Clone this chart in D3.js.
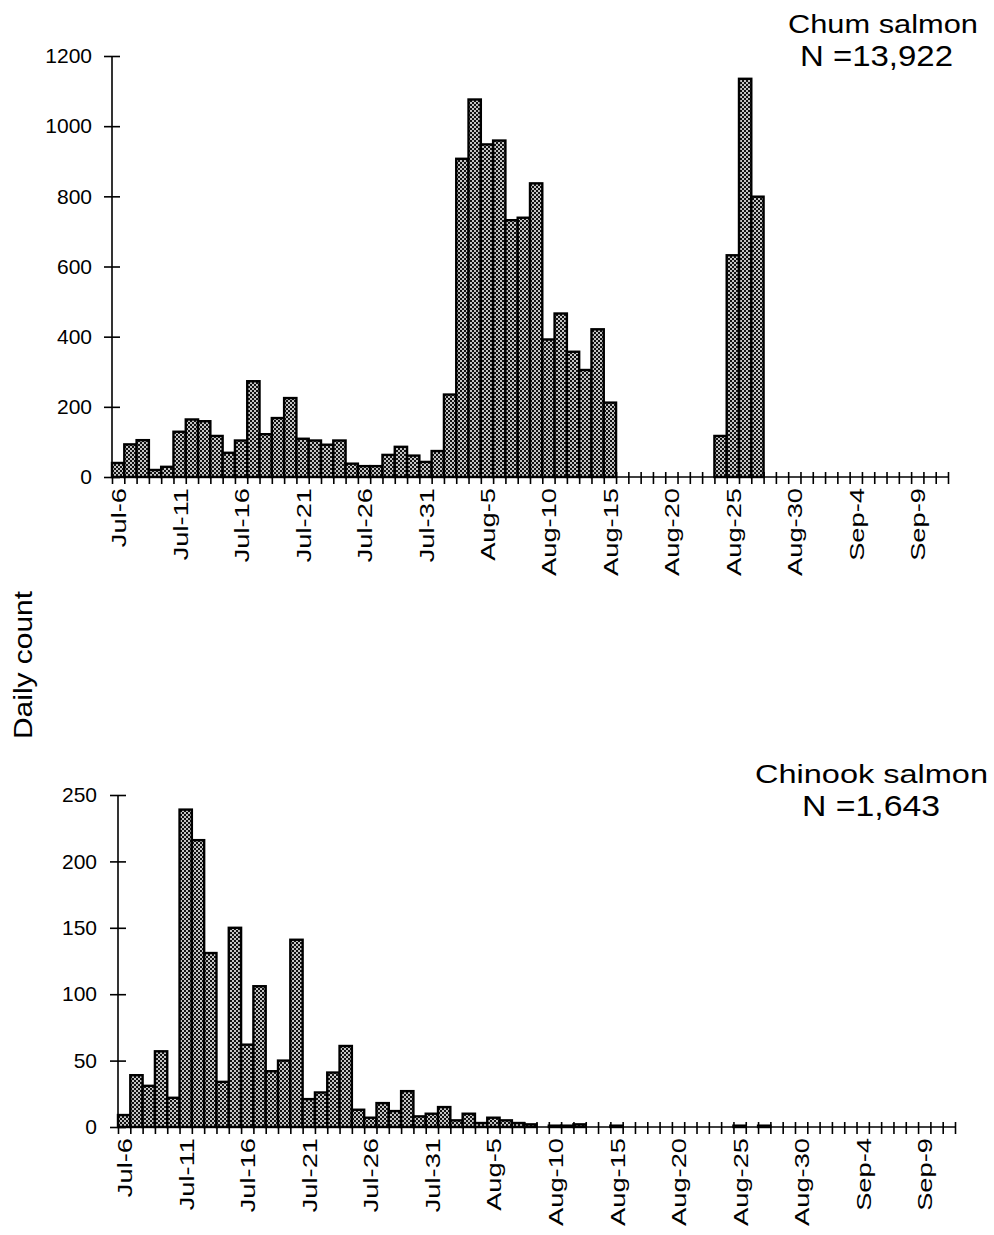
<!DOCTYPE html>
<html>
<head>
<meta charset="utf-8">
<script src="https://cdn.jsdelivr.net/npm/d3@7"></script>
<style>
    body { margin: 0; background: #fff; }
    svg { display: block; font-family: "Liberation Sans", Arial, sans-serif; }
    .domain, .tick line { stroke: #000; stroke-width: 1.6; }
</style>
</head>
<body>
<div class="charts"></div>
<script>
// daily counts, Jul-6 through Sep-12 (68 days)
var chumCounts = [
    40, 93, 105, 20, 29, 129, 164, 159, 117, 69, 104, 273, 122, 168, 225, 109,
    104, 92, 104, 38, 31, 31, 63, 86, 61, 43,
    74, 235, 907, 1076, 948, 959, 732, 739, 837, 392, 466, 357, 305, 421, 212,
    0, 0, 0, 0, 0, 0, 0, 0, 117, 632, 1135, 799, 0, 0, 0, 0,
    0, 0, 0, 0, 0, 0, 0, 0, 0, 0, 0
];
var chinookCounts = [
    9, 39, 31, 57, 22, 239, 216, 131, 34, 150, 62, 106, 42, 50, 141, 21,
    26, 41, 61, 13, 7, 18, 12, 27, 8, 10,
    15, 5, 10, 3, 7, 5, 3, 2, 0, 1, 1, 2, 0, 0, 1,
    0, 0, 0, 0, 0, 0, 0, 0, 0, 1, 0, 1, 0, 0, 0, 0,
    0, 0, 0, 0, 0, 0, 0, 0, 0, 0, 0
];
var dayLabels = ["Jul-6", "Jul-11", "Jul-16", "Jul-21", "Jul-26", "Jul-31", "Aug-5",
    "Aug-10", "Aug-15", "Aug-20", "Aug-25", "Aug-30", "Sep-4", "Sep-9"];
var chumTicks = [0, 200, 400, 600, 800, 1000, 1200];
var chinookTicks = [0, 50, 100, 150, 200, 250];

var days = d3.timeDay.range(new Date(2000, 6, 6), new Date(2000, 8, 12));
var formatDay = d3.timeFormat("%b-%-d");

var svg = d3.select(".charts").append("svg")
    .attr("width", 994)
    .attr("height", 1235);

// checkered fill like the old laser print
var pat = svg.append("defs").append("pattern")
    .attr("id", "checks")
    .attr("width", 4)
    .attr("height", 4)
    .attr("patternUnits", "userSpaceOnUse");
pat.append("rect").attr("width", 4).attr("height", 4).attr("fill", "#111");
pat.append("rect").attr("width", 2).attr("height", 2).attr("fill", "#c4c4c4");
pat.append("rect").attr("x", 2).attr("y", 2).attr("width", 2).attr("height", 2).attr("fill", "#c4c4c4");

function drawPanel(p) {
    var x = d3.scaleLinear().domain([0, days.length]).range([p.left, p.right]);
    var y = d3.scaleLinear().domain([0, p.yMax]).range([p.bottom, p.top]);

    var g = svg.append("g");

    // day ticks along the bottom
    var xAxis = g.append("g")
        .attr("transform", `translate(0, ${p.bottom})`)
        .call(d3.axisBottom(x).tickValues(d3.range(days.length + 1)).tickSize(7).tickFormat(""));
    xAxis.select(".domain").attr("d", `M${p.left},0H${p.right}`);
    xAxis.selectAll(".tick line").attr("y1", -5).attr("stroke-width", 1.2);

    // bars
    var data = p.values.map((v, i) => ({i: i, v: v})).filter(d => d.v > 0);
    g.append("g")
        .selectAll("rect")
        .data(data)
        .enter()
        .append("rect")
        .attr("x", d => x(d.i))
        .attr("y", d => y(d.v))
        .attr("width", d => x(d.i + 1) - x(d.i))
        .attr("height", d => y(0) - y(d.v))
        .attr("fill", "url(#checks)")
        .attr("stroke", "#000")
        .attr("stroke-width", 2.4);

    // y axis, ticks crossing the line
    var yAxis = g.append("g")
        .attr("transform", `translate(${p.left}, 0)`)
        .call(d3.axisLeft(y).tickValues(p.ticks).tickSize(8).tickPadding(p.pad).tickFormat(d3.format("d")));
    yAxis.select(".domain").attr("d", `M0,${p.bottom}V${p.top}`);
    yAxis.selectAll(".tick line").attr("x2", 8).attr("x1", -8);
    yAxis.selectAll(".tick text")
        .attr("font-size", 21)
        .attr("font-family", "Liberation Sans, Arial, sans-serif");

    // rotated date labels every fifth day
    days.forEach(function(d, i) {
        var label = formatDay(d);
        if (dayLabels.indexOf(label) < 0) return;
        g.append("text")
            .attr("transform", `translate(${x(i + 0.5) + 8}, ${p.bottom + 11}) rotate(-90) scale(1.3, 1)`)
            .attr("text-anchor", "end")
            .attr("font-size", 21)
            .text(label);
    });

    // species and total
    g.append("text")
        .attr("x", p.titleX)
        .attr("y", p.titleY)
        .attr("text-anchor", "end")
        .attr("font-size", 25)
        .attr("textLength", p.titleLen)
        .attr("lengthAdjust", "spacingAndGlyphs")
        .text(p.title);
    g.append("text")
        .attr("x", p.nX)
        .attr("y", p.titleY + 33)
        .attr("text-anchor", "end")
        .attr("font-size", 30)
        .attr("textLength", p.nLen)
        .attr("lengthAdjust", "spacingAndGlyphs")
        .text(p.nText);
}

drawPanel({
    values: chumCounts, yMax: 1200, ticks: chumTicks,
    left: 112, right: 948, top: 56, bottom: 477, pad: 12,
    title: "Chum salmon", titleX: 978, titleY: 33, titleLen: 190,
    nText: "N =13,922", nX: 953, nLen: 153
});

drawPanel({
    values: chinookCounts, yMax: 250, ticks: chinookTicks,
    left: 118, right: 955, top: 795, bottom: 1127, pad: 13,
    title: "Chinook salmon", titleX: 988, titleY: 783, titleLen: 233,
    nText: "N =1,643", nX: 940, nLen: 138
});

// shared y label
svg.append("text")
    .attr("transform", "translate(32, 665) rotate(-90)")
    .attr("text-anchor", "middle")
    .attr("font-size", 26)
    .attr("textLength", 148)
    .attr("lengthAdjust", "spacingAndGlyphs")
    .text("Daily count");
</script>
</body>
</html>
